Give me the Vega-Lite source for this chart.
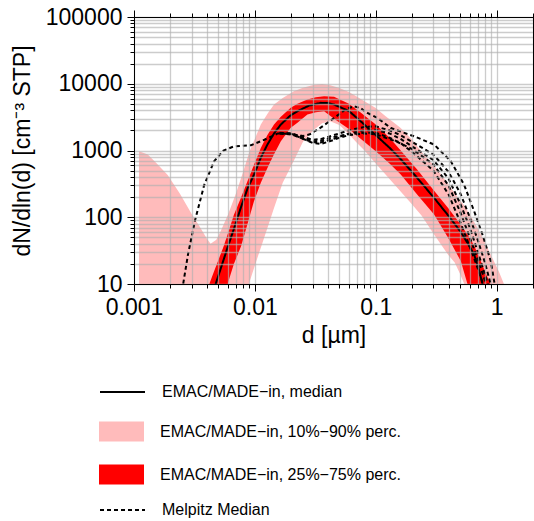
{
  "$schema": "https://vega.github.io/schema/vega-lite/v6.json",
  "width": 399,
  "height": 267,
  "autosize": {"type": "none"},
  "padding": {"left": 134, "top": 17, "right": 1, "bottom": 237},
  "config": {
    "font": "Liberation Sans",
    "view": {"stroke": "black", "strokeWidth": 1},
    "mark": {"color": "black"},
    "line": {"color": "black"},
    "area": {"color": "black"},
    "legend": {
      "orient": "none", "legendX": -35, "direction": "vertical",
      "symbolSize": 2025,
      "labelFontSize": 16, "labelColor": "black", "labelLimit": 400, "labelOffset": 16
    }
  },
  "datasets": {
    "p1090": [
      {"d": 0.0011, "lo": 1, "hi": 975},
      {"d": 0.0013, "lo": 1, "hi": 870},
      {"d": 0.0015, "lo": 1, "hi": 670},
      {"d": 0.0019, "lo": 1, "hi": 430},
      {"d": 0.0024, "lo": 1, "hi": 225},
      {"d": 0.003, "lo": 1, "hi": 112},
      {"d": 0.0035, "lo": 1, "hi": 72},
      {"d": 0.004, "lo": 1, "hi": 48},
      {"d": 0.0043, "lo": 1, "hi": 40},
      {"d": 0.0048, "lo": 1, "hi": 46},
      {"d": 0.0052, "lo": 1, "hi": 61},
      {"d": 0.006, "lo": 1, "hi": 110},
      {"d": 0.007, "lo": 1, "hi": 230},
      {"d": 0.008, "lo": 1, "hi": 480},
      {"d": 0.009, "lo": 10.5, "hi": 950},
      {"d": 0.01, "lo": 19, "hi": 1500},
      {"d": 0.0112, "lo": 35, "hi": 2450},
      {"d": 0.0128, "lo": 72, "hi": 3600},
      {"d": 0.0144, "lo": 138, "hi": 4890},
      {"d": 0.017, "lo": 330, "hi": 6100},
      {"d": 0.021, "lo": 700, "hi": 7700},
      {"d": 0.025, "lo": 1350, "hi": 8700},
      {"d": 0.031, "lo": 2060, "hi": 9700},
      {"d": 0.036, "lo": 2550, "hi": 9900},
      {"d": 0.042, "lo": 2750, "hi": 9500},
      {"d": 0.05, "lo": 2400, "hi": 8600},
      {"d": 0.06, "lo": 1750, "hi": 7500},
      {"d": 0.07, "lo": 1300, "hi": 6400},
      {"d": 0.08, "lo": 1020, "hi": 5500},
      {"d": 0.1, "lo": 640, "hi": 4350},
      {"d": 0.12, "lo": 440, "hi": 3300},
      {"d": 0.16, "lo": 245, "hi": 2200},
      {"d": 0.2, "lo": 155, "hi": 1450},
      {"d": 0.24, "lo": 105, "hi": 950},
      {"d": 0.3, "lo": 57, "hi": 610},
      {"d": 0.35, "lo": 38, "hi": 430},
      {"d": 0.4, "lo": 27, "hi": 310},
      {"d": 0.45, "lo": 21, "hi": 230},
      {"d": 0.5, "lo": 14, "hi": 178},
      {"d": 0.54, "lo": 10, "hi": 150},
      {"d": 0.6, "lo": 6.5, "hi": 110},
      {"d": 0.7, "lo": 3, "hi": 68},
      {"d": 0.8, "lo": 1, "hi": 42},
      {"d": 0.95, "lo": 1, "hi": 22},
      {"d": 1.05, "lo": 1, "hi": 15},
      {"d": 1.15, "lo": 1, "hi": 10},
      {"d": 1.25, "lo": 1, "hi": 6}
    ],
    "p2575": [
      {"d": 0.0042, "lo": 1, "hi": 10},
      {"d": 0.0045, "lo": 1, "hi": 14},
      {"d": 0.005, "lo": 1, "hi": 23},
      {"d": 0.0055, "lo": 1, "hi": 36},
      {"d": 0.006, "lo": 10.5, "hi": 58},
      {"d": 0.0067, "lo": 20, "hi": 108},
      {"d": 0.0077, "lo": 37, "hi": 200},
      {"d": 0.0087, "lo": 80, "hi": 350},
      {"d": 0.0098, "lo": 170, "hi": 600},
      {"d": 0.0112, "lo": 330, "hi": 1094},
      {"d": 0.0127, "lo": 545, "hi": 1700},
      {"d": 0.0144, "lo": 880, "hi": 2450},
      {"d": 0.0164, "lo": 1377, "hi": 3200},
      {"d": 0.0198, "lo": 2200, "hi": 4355},
      {"d": 0.0225, "lo": 2600, "hi": 5000},
      {"d": 0.0272, "lo": 3460, "hi": 5800},
      {"d": 0.032, "lo": 3750, "hi": 6300},
      {"d": 0.0374, "lo": 3880, "hi": 6500},
      {"d": 0.0452, "lo": 3000, "hi": 6400},
      {"d": 0.06, "lo": 2100, "hi": 5000},
      {"d": 0.075, "lo": 1500, "hi": 3700},
      {"d": 0.1, "lo": 975, "hi": 2450},
      {"d": 0.13, "lo": 640, "hi": 1550},
      {"d": 0.161, "lo": 436, "hi": 1000},
      {"d": 0.22, "lo": 220, "hi": 520},
      {"d": 0.304, "lo": 110, "hi": 250},
      {"d": 0.4, "lo": 48, "hi": 135},
      {"d": 0.506, "lo": 22, "hi": 77},
      {"d": 0.574, "lo": 10, "hi": 55},
      {"d": 0.65, "lo": 4, "hi": 38},
      {"d": 0.741, "lo": 1, "hi": 22},
      {"d": 0.82, "lo": 1, "hi": 14},
      {"d": 0.9, "lo": 1, "hi": 9.5}
    ],
    "median": [
      {"d": 0.0045, "n": 7}, {"d": 0.00474, "n": 10}, {"d": 0.00593, "n": 34.7},
      {"d": 0.0068, "n": 72}, {"d": 0.00764, "n": 138}, {"d": 0.0087, "n": 270},
      {"d": 0.00984, "n": 436}, {"d": 0.0112, "n": 780}, {"d": 0.0127, "n": 1228},
      {"d": 0.0144, "n": 1800}, {"d": 0.0164, "n": 2450}, {"d": 0.0195, "n": 3300},
      {"d": 0.0225, "n": 3880}, {"d": 0.028, "n": 4700}, {"d": 0.0351, "n": 5170},
      {"d": 0.04, "n": 5150}, {"d": 0.0452, "n": 4890}, {"d": 0.06, "n": 3900},
      {"d": 0.075, "n": 2750}, {"d": 0.1, "n": 1700}, {"d": 0.13, "n": 1100},
      {"d": 0.161, "n": 740}, {"d": 0.22, "n": 390}, {"d": 0.304, "n": 195},
      {"d": 0.4, "n": 105}, {"d": 0.506, "n": 60}, {"d": 0.58, "n": 40},
      {"d": 0.652, "n": 27.5}, {"d": 0.71, "n": 17}, {"d": 0.764, "n": 10}, {"d": 0.8, "n": 6}
    ],
    "melpitz": [
      {"id": "A", "d": 0.0025, "n": 8}, {"id": "A", "d": 0.0028, "n": 28}, {"id": "A", "d": 0.0032, "n": 90},
      {"id": "A", "d": 0.0038, "n": 300}, {"id": "A", "d": 0.0046, "n": 690}, {"id": "A", "d": 0.0055, "n": 1000},
      {"id": "A", "d": 0.0067, "n": 1150}, {"id": "A", "d": 0.008, "n": 1180}, {"id": "A", "d": 0.0093, "n": 1200},
      {"id": "A", "d": 0.012, "n": 1450}, {"id": "A", "d": 0.0155, "n": 1800}, {"id": "A", "d": 0.02, "n": 1780},
      {"id": "A", "d": 0.025, "n": 1500}, {"id": "A", "d": 0.03, "n": 1300}, {"id": "A", "d": 0.035, "n": 1250},
      {"id": "A", "d": 0.042, "n": 1380}, {"id": "A", "d": 0.05, "n": 1550}, {"id": "A", "d": 0.06, "n": 1700},
      {"id": "A", "d": 0.08, "n": 1800}, {"id": "A", "d": 0.1, "n": 1750}, {"id": "A", "d": 0.15, "n": 1350},
      {"id": "A", "d": 0.2, "n": 1050}, {"id": "A", "d": 0.3, "n": 620}, {"id": "A", "d": 0.4, "n": 300},
      {"id": "A", "d": 0.5, "n": 120}, {"id": "A", "d": 0.6, "n": 50}, {"id": "A", "d": 0.7, "n": 23},
      {"id": "A", "d": 0.78, "n": 13}, {"id": "A", "d": 0.83, "n": 9},
      {"id": "B", "d": 0.016, "n": 1800}, {"id": "B", "d": 0.02, "n": 1750}, {"id": "B", "d": 0.025, "n": 1650},
      {"id": "B", "d": 0.0285, "n": 1750}, {"id": "B", "d": 0.035, "n": 2200}, {"id": "B", "d": 0.0445, "n": 3000},
      {"id": "B", "d": 0.057, "n": 4200}, {"id": "B", "d": 0.066, "n": 4600}, {"id": "B", "d": 0.075, "n": 4300},
      {"id": "B", "d": 0.0853, "n": 3660}, {"id": "B", "d": 0.103, "n": 3080}, {"id": "B", "d": 0.133, "n": 2180},
      {"id": "B", "d": 0.17, "n": 1850}, {"id": "B", "d": 0.207, "n": 1636}, {"id": "B", "d": 0.304, "n": 1228},
      {"id": "B", "d": 0.418, "n": 690}, {"id": "B", "d": 0.538, "n": 308}, {"id": "B", "d": 0.652, "n": 123},
      {"id": "B", "d": 0.764, "n": 55}, {"id": "B", "d": 0.895, "n": 22}, {"id": "B", "d": 0.955, "n": 10.9},
      {"id": "B", "d": 0.98, "n": 8},
      {"id": "C", "d": 0.016, "n": 1850}, {"id": "C", "d": 0.02, "n": 1800}, {"id": "C", "d": 0.025, "n": 1600},
      {"id": "C", "d": 0.03, "n": 1450}, {"id": "C", "d": 0.035, "n": 1480}, {"id": "C", "d": 0.045, "n": 1700},
      {"id": "C", "d": 0.06, "n": 2000}, {"id": "C", "d": 0.08, "n": 2250}, {"id": "C", "d": 0.1, "n": 2300},
      {"id": "C", "d": 0.13, "n": 2000}, {"id": "C", "d": 0.16, "n": 1700}, {"id": "C", "d": 0.2, "n": 1350},
      {"id": "C", "d": 0.3, "n": 870}, {"id": "C", "d": 0.4, "n": 480}, {"id": "C", "d": 0.5, "n": 230},
      {"id": "C", "d": 0.6, "n": 100}, {"id": "C", "d": 0.7, "n": 45}, {"id": "C", "d": 0.8, "n": 21},
      {"id": "C", "d": 0.88, "n": 11}, {"id": "C", "d": 0.91, "n": 8.5},
      {"id": "D", "d": 0.016, "n": 1800}, {"id": "D", "d": 0.02, "n": 1750}, {"id": "D", "d": 0.025, "n": 1500},
      {"id": "D", "d": 0.03, "n": 1330}, {"id": "D", "d": 0.035, "n": 1320}, {"id": "D", "d": 0.045, "n": 1500},
      {"id": "D", "d": 0.06, "n": 1800}, {"id": "D", "d": 0.08, "n": 2000}, {"id": "D", "d": 0.1, "n": 2050},
      {"id": "D", "d": 0.13, "n": 1800}, {"id": "D", "d": 0.16, "n": 1500}, {"id": "D", "d": 0.2, "n": 1150},
      {"id": "D", "d": 0.3, "n": 720}, {"id": "D", "d": 0.4, "n": 380}, {"id": "D", "d": 0.5, "n": 160},
      {"id": "D", "d": 0.6, "n": 70}, {"id": "D", "d": 0.7, "n": 30}, {"id": "D", "d": 0.8, "n": 14},
      {"id": "D", "d": 0.86, "n": 9},
      {"id": "E", "d": 0.016, "n": 1820}, {"id": "E", "d": 0.02, "n": 1800}, {"id": "E", "d": 0.025, "n": 1550},
      {"id": "E", "d": 0.03, "n": 1380}, {"id": "E", "d": 0.035, "n": 1400}, {"id": "E", "d": 0.045, "n": 1600},
      {"id": "E", "d": 0.06, "n": 1750}, {"id": "E", "d": 0.08, "n": 1850}, {"id": "E", "d": 0.1, "n": 1850},
      {"id": "E", "d": 0.13, "n": 1550}, {"id": "E", "d": 0.16, "n": 1300}, {"id": "E", "d": 0.2, "n": 950},
      {"id": "E", "d": 0.3, "n": 500}, {"id": "E", "d": 0.4, "n": 220}, {"id": "E", "d": 0.5, "n": 85},
      {"id": "E", "d": 0.6, "n": 36}, {"id": "E", "d": 0.7, "n": 17}, {"id": "E", "d": 0.76, "n": 11},
      {"id": "E", "d": 0.78, "n": 9}
    ]
  },
  "resolve": {"axis": {"x": "independent", "y": "independent"}},
  "layer": [
    {
      "data": {"name": "p1090"},
      "mark": {"type": "area", "clip": true, "opacity": 1},
      "encoding": {
        "x": {
          "field": "d", "type": "quantitative",
          "scale": {"type": "log", "domain": [0.001, 2], "nice": false},
          "axis": {
            "orient": "bottom", "zindex": 1,
            "values": [0.001, 0.002, 0.003, 0.004, 0.005, 0.006, 0.007, 0.008, 0.009, 0.01, 0.02, 0.03, 0.04, 0.05, 0.06, 0.07, 0.08, 0.09, 0.1, 0.2, 0.3, 0.4, 0.5, 0.6, 0.7, 0.8, 0.9, 1, 2],
            "labelExpr": "abs(log(datum.value)/LN10 - round(log(datum.value)/LN10)) < 0.001 ? format(datum.value, '~g') : ''",
            "labelOverlap": false, "labelFlush": false, "labelFontSize": 23, "labelColor": "black", "labelPadding": 5,
            "tickSize": {"condition": {"test": "abs(log(datum.value)/LN10 - round(log(datum.value)/LN10)) < 0.001", "value": 7}, "value": 4},
            "tickColor": "black", "domainColor": "black",
            "grid": true, "gridColor": "#b0b0b0", "gridOpacity": 0.65, "gridWidth": 1.3,
            "title": "d [µm]", "titleFontSize": 23, "titleFontWeight": "normal", "titleColor": "black", "titlePadding": 5
          }
        },
        "y": {
          "field": "lo", "type": "quantitative",
          "scale": {"type": "log", "domain": [10, 100000], "nice": false},
          "axis": {
            "orient": "left", "zindex": 1,
            "values": [10, 20, 30, 40, 50, 60, 70, 80, 90, 100, 200, 300, 400, 500, 600, 700, 800, 900, 1000, 2000, 3000, 4000, 5000, 6000, 7000, 8000, 9000, 10000, 20000, 30000, 40000, 50000, 60000, 70000, 80000, 90000, 100000],
            "labelExpr": "abs(log(datum.value)/LN10 - round(log(datum.value)/LN10)) < 0.001 ? format(datum.value, '~g') : ''",
            "labelOverlap": false, "labelFlush": false, "labelFontSize": 23, "labelColor": "black", "labelPadding": 5,
            "tickSize": {"condition": {"test": "abs(log(datum.value)/LN10 - round(log(datum.value)/LN10)) < 0.001", "value": 7}, "value": 4},
            "tickColor": "black", "domainColor": "black",
            "grid": true, "gridColor": "#b0b0b0", "gridOpacity": 0.65, "gridWidth": 1.3,
            "title": "dN/dln(d) [cm⁻³ STP]", "titleFontSize": 23, "titleFontWeight": "normal", "titleColor": "black", "titlePadding": 11
          }
        },
        "y2": {"field": "hi"},
        "color": {
          "datum": "EMAC/MADE−in, 10%−90% perc.",
          "scale": {
            "domain": ["EMAC/MADE−in, median", "EMAC/MADE−in, 10%−90% perc.", "EMAC/MADE−in, 25%−75% perc.", "Melpitz Median"],
            "range": ["black", "#ffbbbb", "#ff0000", "black"]
          },
          "legend": {
            "title": null,
            "values": ["EMAC/MADE−in, 10%−90% perc.", "EMAC/MADE−in, 25%−75% perc."],
            "symbolType": "M-1,-0.44L1,-0.44L1,0.44L-1,0.44Z",
            "symbolStrokeWidth": 0,
            "rowPadding": 10,
            "legendY": 392
          }
        }
      }
    },
    {
      "data": {"name": "p2575"},
      "mark": {"type": "area", "clip": true, "opacity": 1},
      "encoding": {
        "x": {
          "field": "d", "type": "quantitative",
          "axis": {
            "orient": "top", "values": [0.001, 0.002, 0.003, 0.004, 0.005, 0.006, 0.007, 0.008, 0.009, 0.01, 0.02, 0.03, 0.04, 0.05, 0.06, 0.07, 0.08, 0.09, 0.1, 0.2, 0.3, 0.4, 0.5, 0.6, 0.7, 0.8, 0.9, 1, 2],
            "labels": false, "grid": false, "title": null,
            "tickSize": {"condition": {"test": "abs(log(datum.value)/LN10 - round(log(datum.value)/LN10)) < 0.001", "value": 7}, "value": 4},
            "tickColor": "black", "domainColor": "black", "zindex": 1
          }
        },
        "y": {
          "field": "lo", "type": "quantitative",
          "axis": {
            "orient": "right", "values": [10, 20, 30, 40, 50, 60, 70, 80, 90, 100, 200, 300, 400, 500, 600, 700, 800, 900, 1000, 2000, 3000, 4000, 5000, 6000, 7000, 8000, 9000, 10000, 20000, 30000, 40000, 50000, 60000, 70000, 80000, 90000, 100000],
            "labels": false, "grid": false, "title": null,
            "tickSize": 4, "tickColor": "black", "domainColor": "black", "zindex": 1
          }
        },
        "y2": {"field": "hi"},
        "color": {"datum": "EMAC/MADE−in, 25%−75% perc."}
      }
    },
    {
      "data": {"name": "median"},
      "mark": {"type": "line", "clip": true, "strokeWidth": 2},
      "encoding": {
        "x": {"field": "d", "type": "quantitative", "axis": null},
        "y": {"field": "n", "type": "quantitative", "axis": null},
        "color": {"datum": "EMAC/MADE−in, median"},
        "strokeDash": {
          "datum": "EMAC/MADE−in, median",
          "scale": {
            "domain": ["EMAC/MADE−in, median", "Melpitz Median"],
            "range": [[1, 0], [4, 3]]
          },
          "legend": {
            "title": null,
            "symbolType": "stroke",
            "symbolStrokeColor": "black",
            "symbolStrokeWidth": 2,
            "rowPadding": 86,
            "legendY": 351.5
          }
        }
      }
    },
    {
      "data": {"name": "melpitz"},
      "mark": {"type": "line", "clip": true, "strokeWidth": 2},
      "encoding": {
        "x": {"field": "d", "type": "quantitative", "axis": null},
        "y": {"field": "n", "type": "quantitative", "axis": null},
        "detail": {"field": "id"},
        "color": {"datum": "Melpitz Median"},
        "strokeDash": {"datum": "Melpitz Median"}
      }
    }
  ]
}
